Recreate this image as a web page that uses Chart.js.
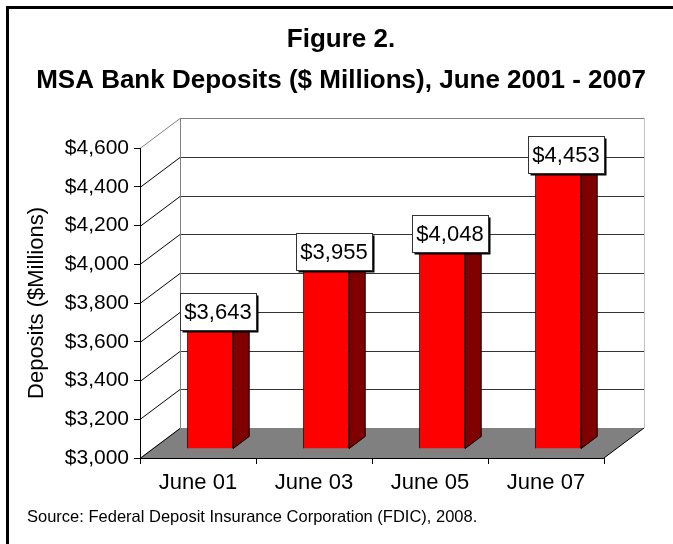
<!DOCTYPE html>
<html>
<head>
<meta charset="utf-8">
<title>MSA Bank Deposits</title>
<script src="https://cdn.jsdelivr.net/npm/chart.js@4.4.0/dist/chart.umd.min.js"></script>
<style>
    html, body { margin: 0; padding: 0; background: #fff; }
    #wrap { width: 673px; height: 544px; }
</style>
</head>
<body>
<div id="wrap"><canvas id="chartDeposits" width="673" height="544"></canvas></div>
<script>
const categories = ['June 01', 'June 03', 'June 05', 'June 07'];
const deposits = [3643, 3955, 4048, 4453];
const yTicks = [3000, 3200, 3400, 3600, 3800, 4000, 4200, 4400, 4600];
const titleLines = ['Figure 2.', 'MSA Bank Deposits ($ Millions), June 2001 - 2007'];
const axisTitle = 'Deposits ($Millions)';
const sourceNote = 'Source: Federal Deposit Insurance Corporation (FDIC), 2008.';

const FONT = "'Liberation Sans', Arial, sans-serif";
// depth of the box (back wall offset) and where the bars sit inside it
const DEPTH_X = 40;
const DEPTH_Y = -30;
const BAR_FRONT = 0.3;
const BAR_DEPTH = 0.4;

function money(v) {
    return '$' + Number(v).toLocaleString('en-US');
}

// floor, back wall and side wall of the 3d box
const boxPlugin = {
    id: 'box3d',
    beforeDraw(chart) {
        const ctx = chart.ctx;
        const a = chart.chartArea;
        const yScale = chart.scales.y;
        ctx.save();
        ctx.lineWidth = 1;

        ctx.fillStyle = '#808080';
        ctx.beginPath();
        ctx.moveTo(a.left, a.bottom);
        ctx.lineTo(a.right, a.bottom);
        ctx.lineTo(a.right + DEPTH_X, a.bottom + DEPTH_Y);
        ctx.lineTo(a.left + DEPTH_X, a.bottom + DEPTH_Y);
        ctx.closePath();
        ctx.fill();

        yTicks.forEach(function (v, i) {
            const py = Math.round(yScale.getPixelForValue(v)) + 0.5;
            const isTop = i === yTicks.length - 1;
            ctx.strokeStyle = isTop ? '#808080' : '#000';
            ctx.beginPath();
            ctx.moveTo(a.left, py);
            ctx.lineTo(a.left + DEPTH_X, py + DEPTH_Y);
            ctx.stroke();
            if (i > 0) {
                ctx.strokeStyle = isTop ? '#808080' : '#333';
                ctx.beginPath();
                ctx.moveTo(a.left + DEPTH_X, py + DEPTH_Y);
                ctx.lineTo(a.right + DEPTH_X, py + DEPTH_Y);
                ctx.stroke();
            }
        });

        const topY = Math.round(yScale.getPixelForValue(yTicks[yTicks.length - 1])) + DEPTH_Y;
        const botY = Math.round(a.bottom) + DEPTH_Y;
        ctx.strokeStyle = '#808080';
        ctx.beginPath();
        ctx.moveTo(a.left + DEPTH_X + 0.5, topY);
        ctx.lineTo(a.left + DEPTH_X + 0.5, botY);
        ctx.stroke();
        ctx.strokeStyle = '#c0c0c0';
        ctx.beginPath();
        ctx.moveTo(a.right + DEPTH_X + 0.5, topY);
        ctx.lineTo(a.right + DEPTH_X + 0.5, botY);
        ctx.stroke();

        // right edge of the floor
        ctx.strokeStyle = '#000';
        ctx.beginPath();
        ctx.moveTo(a.right, a.bottom);
        ctx.lineTo(a.right + DEPTH_X, a.bottom + DEPTH_Y);
        ctx.stroke();
        ctx.restore();
    },
    beforeDatasetsDraw(chart) {
        // bars stand a little way back from the front edge
        chart.ctx.save();
        chart.ctx.translate(DEPTH_X * BAR_FRONT, DEPTH_Y * BAR_FRONT);
    },
    afterDatasetsDraw(chart) {
        const ctx = chart.ctx;
        const sx = DEPTH_X * BAR_DEPTH;
        const sy = DEPTH_Y * BAR_DEPTH;
        const bars = chart.getDatasetMeta(0).data;
        ctx.lineWidth = 1;
        ctx.strokeStyle = '#000';
        bars.forEach(function (bar) {
            const left = bar.x - bar.width / 2;
            const right = bar.x + bar.width / 2;
            // side
            ctx.fillStyle = '#800000';
            ctx.beginPath();
            ctx.moveTo(right, bar.y);
            ctx.lineTo(right + sx, bar.y + sy);
            ctx.lineTo(right + sx, bar.base + sy);
            ctx.lineTo(right, bar.base);
            ctx.closePath();
            ctx.fill();
            ctx.stroke();
            // top
            ctx.fillStyle = '#ff0000';
            ctx.beginPath();
            ctx.moveTo(left, bar.y);
            ctx.lineTo(right, bar.y);
            ctx.lineTo(right + sx, bar.y + sy);
            ctx.lineTo(left + sx, bar.y + sy);
            ctx.closePath();
            ctx.fill();
            ctx.stroke();
        });

        // value boxes
        ctx.font = '22px ' + FONT;
        ctx.textAlign = 'center';
        ctx.textBaseline = 'middle';
        bars.forEach(function (bar, i) {
            const text = money(deposits[i]);
            const w = Math.round(ctx.measureText(text).width + 9);
            const h = 37;
            const cx = bar.x + sx / 2;
            const cy = bar.y - 12.5;
            const bx = Math.round(cx - w / 2) + 0.5;
            const by = Math.round(cy - h / 2) + 0.5;
            ctx.fillStyle = '#000';
            ctx.fillRect(bx + 2, by + 2, w, h);
            ctx.fillStyle = '#fff';
            ctx.fillRect(bx, by, w, h);
            ctx.strokeStyle = '#333';
            ctx.strokeRect(bx, by, w, h);
            ctx.fillStyle = '#000';
            ctx.fillText(text, cx, cy + 1);
        });
        ctx.restore();
    },
};

// titles, source line and the frame
const framePlugin = {
    id: 'frame',
    afterDraw(chart) {
        const ctx = chart.ctx;
        ctx.save();
        ctx.strokeStyle = '#000';
        ctx.lineWidth = 3;
        ctx.strokeRect(7.5, 7.5, 700, 600);

        ctx.fillStyle = '#000';
        ctx.textAlign = 'center';
        ctx.textBaseline = 'alphabetic';
        ctx.font = 'bold 26px ' + FONT;
        ctx.fillText(titleLines[0], 341, 46.5);
        ctx.fillText(titleLines[1], 341, 88);

        ctx.textAlign = 'left';
        ctx.font = '16.5px ' + FONT;
        ctx.fillText(sourceNote, 27, 521.5);
        ctx.restore();
    },
};

const ctx = document.getElementById('chartDeposits').getContext('2d');
const chartDeposits = new Chart(ctx, {
    type: 'bar',
    data: {
        labels: categories,
        datasets: [
            {
                data: deposits,
                base: yTicks[0],
                backgroundColor: '#ff0000',
                borderColor: '#000',
                borderWidth: 1,
                barPercentage: 0.4,
                categoryPercentage: 1,
            },
        ],
    },
    options: {
        responsive: false,
        animation: false,
        layout: {
            padding: { left: 8, right: 69, top: 148, bottom: 46 },
        },
        plugins: {
            legend: { display: false },
            tooltip: { enabled: false },
        },
        scales: {
            x: {
                afterFit: function (scale) {
                    scale.height = 40;
                },
                grid: {
                    drawOnChartArea: false,
                    drawTicks: true,
                    tickLength: 6,
                    color: '#000',
                },
                border: { color: '#000', width: 1 },
                ticks: {
                    color: '#000',
                    padding: 6,
                    font: { family: FONT, size: 22 },
                },
            },
            y: {
                min: yTicks[0],
                max: yTicks[yTicks.length - 1],
                afterFit: function (scale) {
                    scale.width = 132;
                },
                grid: {
                    drawOnChartArea: false,
                    drawTicks: true,
                    tickLength: 6,
                    color: '#000',
                },
                border: { color: '#000', width: 1 },
                ticks: {
                    stepSize: yTicks[1] - yTicks[0],
                    color: '#000',
                    padding: 5,
                    font: { family: FONT, size: 21 },
                    callback: function (value) {
                        return money(value);
                    },
                },
                title: {
                    display: true,
                    text: axisTitle,
                    color: '#000',
                    font: { family: FONT, size: 22 },
                    padding: { top: 15.5, bottom: 0 },
                },
            },
        },
    },
    plugins: [boxPlugin, framePlugin],
});
</script>
</body>
</html>
